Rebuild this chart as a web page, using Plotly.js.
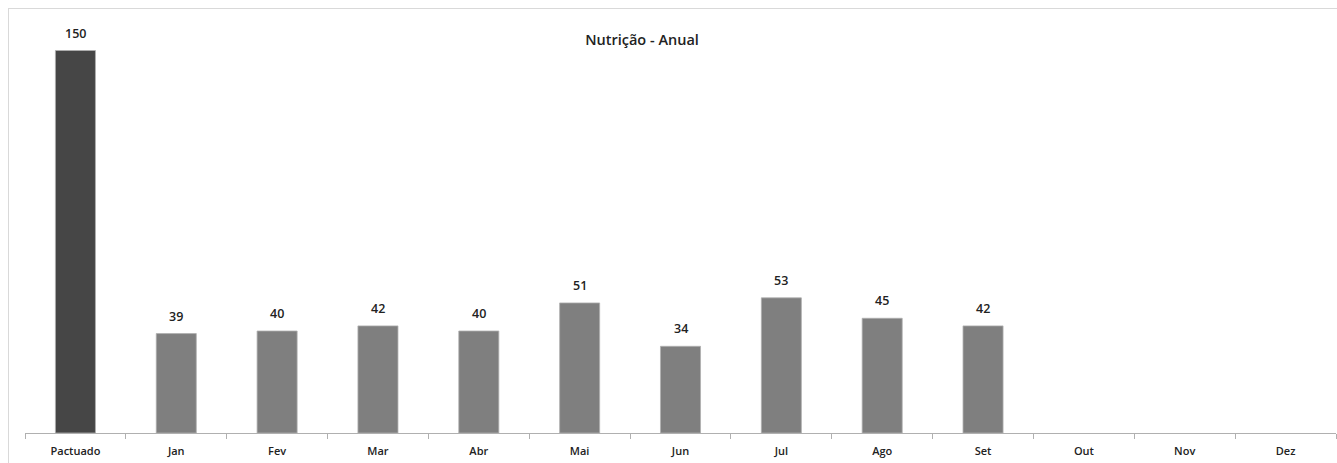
<!DOCTYPE html>
<html>
<head>
<meta charset="utf-8">
<script src="https://cdn.plot.ly/plotly-3.0.1.min.js"></script>
<style>
html,body{margin:0;padding:0;background:#fff;}
#wrap{position:relative;width:1337px;height:463px;overflow:hidden;}
#chart{position:absolute;left:0;top:0;width:1337px;height:463px;}
#border{position:absolute;left:8px;top:8px;width:1340px;height:470px;border:1px solid #d9d9d9;pointer-events:none;}
</style>
</head>
<body>
<div id="wrap"><div id="chart"></div><div id="border"></div></div>
<script>
const categories = ["Pactuado","Jan","Fev","Mar","Abr","Mai","Jun","Jul","Ago","Set","Out","Nov","Dez"];
const values = [150,39,40,42,40,51,34,53,45,42,null,null,null];
const barColors = ["#464646","#7f7f7f","#7f7f7f","#7f7f7f","#7f7f7f","#7f7f7f","#7f7f7f","#7f7f7f","#7f7f7f","#7f7f7f","#7f7f7f","#7f7f7f","#7f7f7f"];
const chartTitle = "Nutrição - Anual";

const font = "Open Sans, Noto Sans, sans-serif";
const annotations = [];
categories.forEach((c, i) => {
  if (values[i] === null) return;
  annotations.push({x: c, y: values[i], xref: "x", yref: "y", text: String(values[i]),
    showarrow: false, yanchor: "bottom", yshift: 7,
    font: {family: font, size: 12.5, color: "#222", weight: 600}});
});

Plotly.newPlot("chart", [{
  type: "bar",
  x: categories,
  y: values,
  marker: {color: barColors, line: {color: "#b0b0b0", width: 0.8}},
  hoverinfo: "none"
}], {
  width: 1337, height: 463,
  margin: {l: 25, r: 1, t: 25, b: 30},
  paper_bgcolor: "#fff", plot_bgcolor: "#fff",
  bargap: 0.603,
  showlegend: false,
  annotations: annotations,
  title: {text: chartTitle, font: {family: font, size: 14.5, color: "#222", weight: 600},
          x: 642/1337, xref: "container", xanchor: "center", y: 1 - 40/463, yref: "container", yanchor: "middle"},
  xaxis: {type: "category", showline: true, linecolor: "#b0b0b0", linewidth: 1,
          ticks: "outside", tickson: "boundaries", ticklen: 5, tickcolor: "#b0b0b0",
          ticklabelstandoff: 8,
          tickfont: {family: font, size: 11, color: "#222", weight: 600}, showgrid: false, zeroline: false},
  yaxis: {range: [0, 160], visible: false, showgrid: false, zeroline: false}
}, {staticPlot: true});
</script>
</body>
</html>
